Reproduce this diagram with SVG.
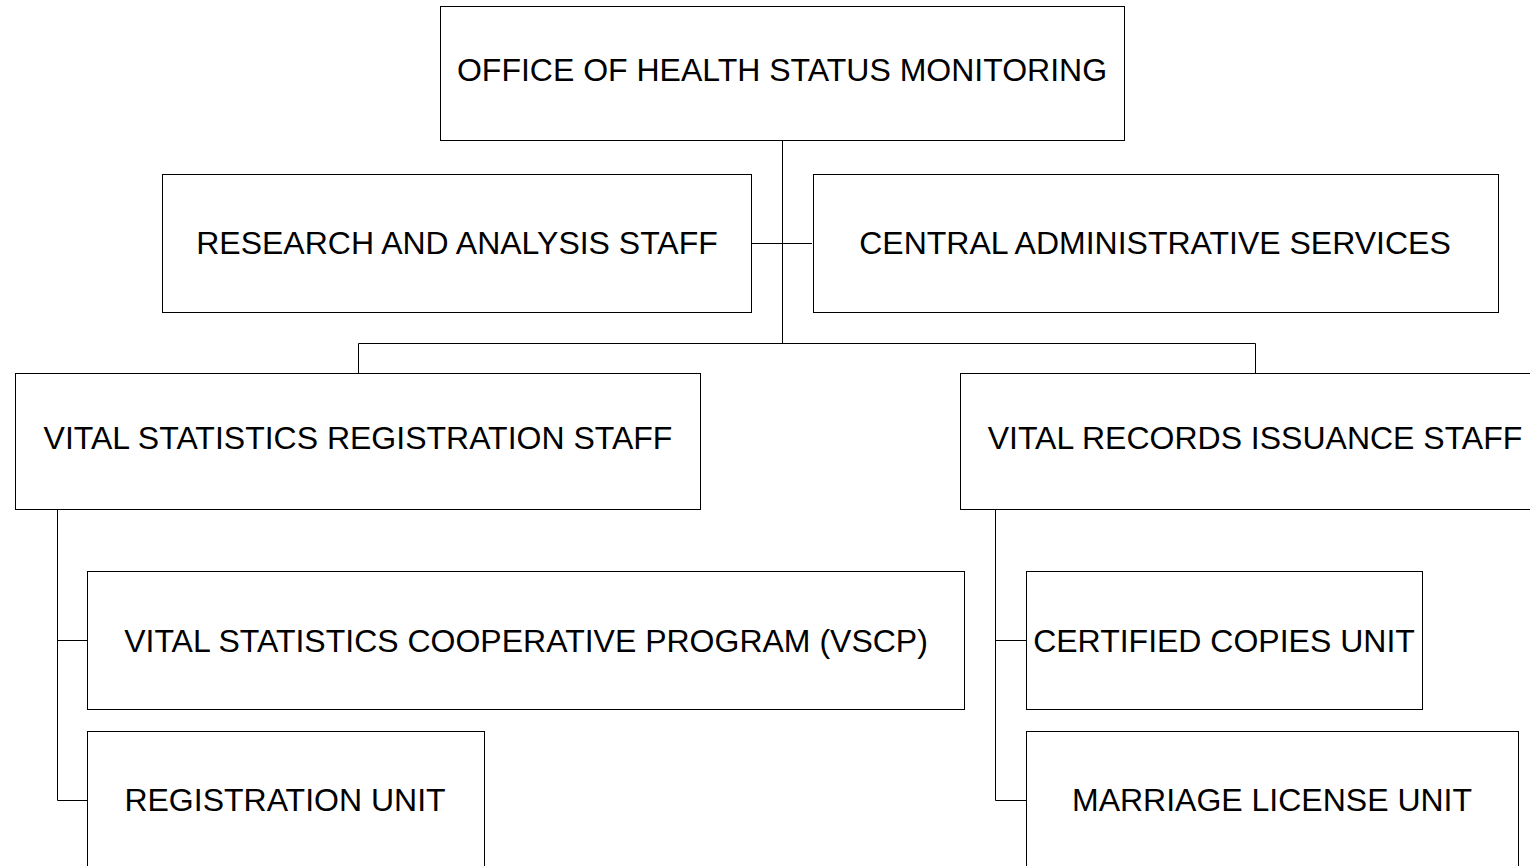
<svg xmlns="http://www.w3.org/2000/svg" width="1530" height="866" viewBox="0 0 1530 866">
<style>
.box{fill:#fff;stroke:#000;stroke-width:1}
.t{font-family:"Liberation Sans",Arial,sans-serif;font-size:32px;fill:#000;text-anchor:middle}
.c{fill:none;stroke:#000;stroke-width:1}
</style>
<rect width="1530" height="866" fill="#fff"/>
<g id="connectors">
<path class="c" d="M782.5 141V343M752 243.5H812M358.5 373V343.5H1255.5V373M57.5 509V800.5H87M57 640.5H87M995.5 509V800.5H1026M995 640.5H1026"/>
</g>
<g id="office"><rect class="box" x="440.5" y="6.5" width="684" height="134"/><text class="t" x="782" y="81">OFFICE OF HEALTH STATUS MONITORING</text></g>
<g id="research"><rect class="box" x="162.5" y="174.5" width="589" height="138"/><text class="t" x="457" y="254">RESEARCH AND ANALYSIS STAFF</text></g>
<g id="central"><rect class="box" x="813.5" y="174.5" width="685" height="138"/><text class="t" x="1155" y="254">CENTRAL ADMINISTRATIVE SERVICES</text></g>
<g id="vsrs"><rect class="box" x="15.5" y="373.5" width="685" height="136"/><text class="t" x="358" y="449">VITAL STATISTICS REGISTRATION STAFF</text></g>
<g id="vris"><rect class="box" x="960.5" y="373.5" width="600" height="136"/><text class="t" x="1255" y="449">VITAL RECORDS ISSUANCE STAFF</text></g>
<g id="vscp"><rect class="box" x="87.5" y="571.5" width="877" height="138"/><text class="t" x="526" y="652">VITAL STATISTICS COOPERATIVE PROGRAM (VSCP)</text></g>
<g id="registration"><rect class="box" x="87.5" y="731.5" width="397" height="150"/><text class="t" x="285" y="811">REGISTRATION UNIT</text></g>
<g id="certified"><rect class="box" x="1026.5" y="571.5" width="396" height="138"/><text class="t" x="1224" y="652">CERTIFIED COPIES UNIT</text></g>
<g id="marriage"><rect class="box" x="1026.5" y="731.5" width="492" height="150"/><text class="t" x="1272" y="811">MARRIAGE LICENSE UNIT</text></g>
</svg>
